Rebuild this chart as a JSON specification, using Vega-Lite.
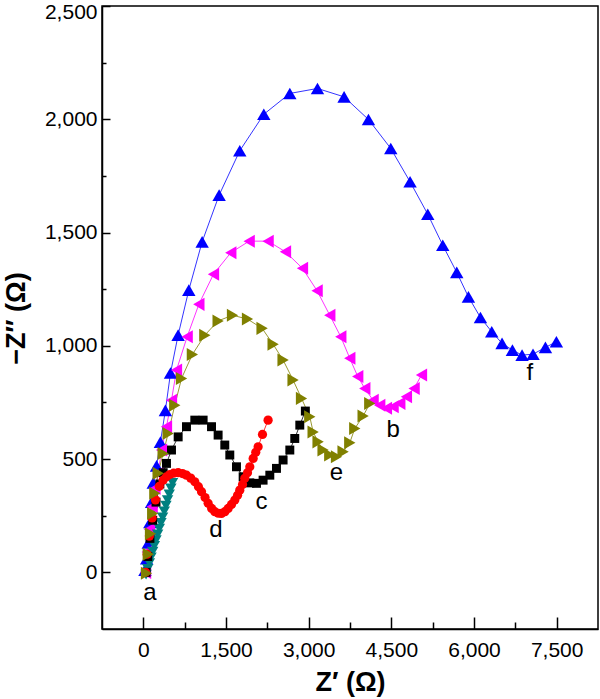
{
  "$schema": "https://vega.github.io/schema/vega-lite/v6.json",
  "width": 496,
  "height": 623,
  "autosize": {"type": "none"},
  "padding": {"left": 102, "top": 6, "right": 2, "bottom": 70},
  "background": "white",
  "config": {
    "view": {"stroke": "black", "strokeWidth": 1.5},
    "axis": {
      "grid": false,
      "labelFont": "Liberation Sans",
      "labelFontSize": 21,
      "labelColor": "black",
      "domainColor": "black",
      "domainWidth": 1.5,
      "tickColor": "black",
      "tickWidth": 1.5,
      "titleFont": "Liberation Sans",
      "titleFontSize": 27,
      "titleFontWeight": "bold",
      "titleColor": "black"
    }
  },
  "datasets": {
    "pts": [
      {"s":"f","x":30,"y":10},{"s":"f","x":60,"y":60},{"s":"f","x":90,"y":130},{"s":"f","x":118,"y":220},{"s":"f","x":150,"y":310},{"s":"f","x":180,"y":395},{"s":"f","x":240,"y":470},{"s":"f","x":310,"y":575},{"s":"f","x":400,"y":715},{"s":"f","x":493,"y":880},{"s":"f","x":631,"y":1047},{"s":"f","x":825,"y":1246},{"s":"f","x":1067,"y":1459},{"s":"f","x":1375,"y":1665},{"s":"f","x":1750,"y":1861},{"s":"f","x":2186,"y":2022},{"s":"f","x":2658,"y":2114},{"s":"f","x":3160,"y":2136},{"s":"f","x":3643,"y":2099},{"s":"f","x":4085,"y":1999},{"s":"f","x":4490,"y":1871},{"s":"f","x":4840,"y":1724},{"s":"f","x":5161,"y":1581},{"s":"f","x":5433,"y":1444},{"s":"f","x":5687,"y":1324},{"s":"f","x":5899,"y":1216},{"s":"f","x":6117,"y":1125},{"s":"f","x":6322,"y":1062},{"s":"f","x":6509,"y":1011},{"s":"f","x":6697,"y":981},{"s":"f","x":6872,"y":959},{"s":"f","x":7071,"y":963},{"s":"f","x":7296,"y":993},{"s":"f","x":7495,"y":1018},
      {"s":"b","x":40,"y":0},{"s":"b","x":70,"y":90},{"s":"b","x":110,"y":190},{"s":"b","x":160,"y":290},{"s":"b","x":210,"y":370},{"s":"b","x":269,"y":437},{"s":"b","x":330,"y":540},{"s":"b","x":420,"y":643},{"s":"b","x":511,"y":760},{"s":"b","x":602,"y":893},{"s":"b","x":795,"y":1040},{"s":"b","x":1007,"y":1183},{"s":"b","x":1273,"y":1316},{"s":"b","x":1587,"y":1411},{"s":"b","x":1920,"y":1462},{"s":"b","x":2264,"y":1462},{"s":"b","x":2579,"y":1415},{"s":"b","x":2888,"y":1342},{"s":"b","x":3153,"y":1243},{"s":"b","x":3383,"y":1135},{"s":"b","x":3583,"y":1040},{"s":"b","x":3746,"y":945},{"s":"b","x":3890,"y":865},{"s":"b","x":4018,"y":812},{"s":"b","x":4169,"y":760},{"s":"b","x":4290,"y":738},{"s":"b","x":4411,"y":724},{"s":"b","x":4532,"y":731},{"s":"b","x":4653,"y":746},{"s":"b","x":4774,"y":775},{"s":"b","x":4913,"y":812},{"s":"b","x":5047,"y":871},
      {"s":"a","x":50,"y":-10},{"s":"a","x":80,"y":15},{"s":"a","x":110,"y":41},{"s":"a","x":140,"y":66},{"s":"a","x":170,"y":91},{"s":"a","x":200,"y":117},{"s":"a","x":230,"y":142},{"s":"a","x":260,"y":167},{"s":"a","x":290,"y":193},{"s":"a","x":320,"y":218},{"s":"a","x":350,"y":243},{"s":"a","x":380,"y":269},{"s":"a","x":410,"y":294},{"s":"a","x":440,"y":319},{"s":"a","x":470,"y":344},{"s":"a","x":500,"y":370},{"s":"a","x":530,"y":395},
      {"s":"c","x":50,"y":0},{"s":"c","x":80,"y":70},{"s":"c","x":120,"y":150},{"s":"c","x":170,"y":230},{"s":"c","x":230,"y":310},{"s":"c","x":300,"y":390},{"s":"c","x":360,"y":440},{"s":"c","x":420,"y":481},{"s":"c","x":511,"y":540},{"s":"c","x":632,"y":598},{"s":"c","x":783,"y":643},{"s":"c","x":934,"y":672},{"s":"c","x":1085,"y":672},{"s":"c","x":1237,"y":643},{"s":"c","x":1357,"y":606},{"s":"c","x":1478,"y":562},{"s":"c","x":1569,"y":518},{"s":"c","x":1690,"y":466},{"s":"c","x":1811,"y":422},{"s":"c","x":1932,"y":395},{"s":"c","x":2053,"y":393},{"s":"c","x":2173,"y":407},{"s":"c","x":2295,"y":429},{"s":"c","x":2416,"y":459},{"s":"c","x":2536,"y":496},{"s":"c","x":2658,"y":540},{"s":"c","x":2748,"y":591},{"s":"c","x":2839,"y":650},{"s":"c","x":2940,"y":712},
      {"s":"d","x":40,"y":0},{"s":"d","x":70,"y":80},{"s":"d","x":110,"y":160},{"s":"d","x":160,"y":240},{"s":"d","x":220,"y":320},{"s":"d","x":290,"y":380},{"s":"d","x":359,"y":407},{"s":"d","x":420,"y":422},{"s":"d","x":481,"y":432},{"s":"d","x":550,"y":438},{"s":"d","x":632,"y":440},{"s":"d","x":710,"y":436},{"s":"d","x":783,"y":429},{"s":"d","x":860,"y":416},{"s":"d","x":934,"y":400},{"s":"d","x":1000,"y":378},{"s":"d","x":1056,"y":356},{"s":"d","x":1120,"y":330},{"s":"d","x":1176,"y":305},{"s":"d","x":1240,"y":282},{"s":"d","x":1297,"y":268},{"s":"d","x":1360,"y":261},{"s":"d","x":1418,"y":260},{"s":"d","x":1480,"y":268},{"s":"d","x":1539,"y":282},{"s":"d","x":1600,"y":300},{"s":"d","x":1660,"y":319},{"s":"d","x":1710,"y":340},{"s":"d","x":1750,"y":363},{"s":"d","x":1800,"y":388},{"s":"d","x":1841,"y":415},{"s":"d","x":1890,"y":440},{"s":"d","x":1932,"y":466},{"s":"d","x":1993,"y":503},{"s":"d","x":2040,"y":530},{"s":"d","x":2083,"y":554},{"s":"d","x":2162,"y":609},{"s":"d","x":2264,"y":672},
      {"s":"e","x":58,"y":-4},{"s":"e","x":90,"y":80},{"s":"e","x":130,"y":170},{"s":"e","x":170,"y":260},{"s":"e","x":209,"y":349},{"s":"e","x":269,"y":437},{"s":"e","x":359,"y":525},{"s":"e","x":450,"y":613},{"s":"e","x":571,"y":738},{"s":"e","x":693,"y":856},{"s":"e","x":890,"y":962},{"s":"e","x":1116,"y":1047},{"s":"e","x":1357,"y":1110},{"s":"e","x":1618,"y":1135},{"s":"e","x":1890,"y":1118},{"s":"e","x":2155,"y":1077},{"s":"e","x":2355,"y":1007},{"s":"e","x":2536,"y":937},{"s":"e","x":2717,"y":849},{"s":"e","x":2870,"y":768},{"s":"e","x":3020,"y":687},{"s":"e","x":3081,"y":620},{"s":"e","x":3171,"y":576},{"s":"e","x":3262,"y":540},{"s":"e","x":3383,"y":518},{"s":"e","x":3505,"y":510},{"s":"e","x":3625,"y":532},{"s":"e","x":3746,"y":572},{"s":"e","x":3837,"y":635},{"s":"e","x":3988,"y":690},{"s":"e","x":4109,"y":745}
    ],
    "labels": [
      {"t":"a","x":118,"y":-93},
      {"t":"b","x":4532,"y":628},
      {"t":"c","x":2144,"y":312},
      {"t":"d","x":1315,"y":187},
      {"t":"e","x":3505,"y":437},
      {"t":"f","x":7011,"y":878}
    ]
  },
  "resolve": {"axis": {"x": "independent", "y": "independent"}},
  "layer": [
    {
      "data": {"name": "pts"},
      "mark": {"type": "line", "strokeWidth": 0.8, "clip": true},
      "encoding": {
        "x": {"field": "x", "type": "quantitative", "scale": {"domain": [-750, 8250], "nice": false, "zero": false},
          "axis": {"orient": "bottom", "values": [0, 1500, 3000, 4500, 6000, 7500], "format": ",d", "tickSize": -12, "labelPadding": 22, "title": "Z′ (Ω)", "titleY": 53, "titleBaseline": "middle"}},
        "y": {"field": "y", "type": "quantitative", "scale": {"domain": [-250, 2500], "nice": false, "zero": false},
          "axis": {"orient": "left", "values": [0, 500, 1000, 1500, 2000, 2500], "format": ",d", "tickSize": -8, "labelPadding": 13, "labelFlush": true, "labelFlushOffset": 5, "title": "−Z″ (Ω)", "titleX": -86, "titleY": 312, "titleAngle": -90, "titleAlign": "center", "titleBaseline": "middle"}},
        "color": {"field": "s", "type": "nominal", "legend": null,
          "scale": {"domain": ["a","b","c","d","e","f"], "range": ["#008080","#FF00FF","#000000","#FF0000","#808000","#0000FF"]}},
        "order": {"value": null}
      }
    },
    {
      "data": {"name": "pts"},
      "mark": {"type": "point", "filled": true, "opacity": 1, "clip": true},
      "encoding": {
        "x": {"field": "x", "type": "quantitative", "axis": null},
        "y": {"field": "y", "type": "quantitative", "axis": null},
        "color": {"field": "s", "type": "nominal", "legend": null},
        "shape": {"field": "s", "type": "nominal", "legend": null,
          "scale": {"domain": ["a","b","c","d","e","f"], "range": ["triangle-down","triangle-left","square","circle","triangle-right","triangle-up"]}},
        "size": {"field": "s", "type": "nominal", "legend": null,
          "scale": {"type": "ordinal", "domain": ["a","b","c","d","e","f"], "range": [130, 170, 80, 85, 170, 180]}}
      }
    },
    {
      "data": {"name": "labels"},
      "mark": {"type": "text", "font": "Liberation Sans", "fontSize": 24, "color": "black", "align": "center", "baseline": "middle"},
      "encoding": {
        "x": {"field": "x", "type": "quantitative", "axis": null},
        "y": {"field": "y", "type": "quantitative", "axis": null},
        "text": {"field": "t", "type": "nominal"}
      }
    },
    {
      "data": {"name": "labels"},
      "mark": {"type": "point", "opacity": 0},
      "encoding": {
        "x": {"field": "x", "type": "quantitative",
          "axis": {"orient": "bottom", "values": [750, 2250, 3750, 5250, 6750], "labels": false, "domain": false, "tickSize": -7, "title": null}},
        "y": {"field": "y", "type": "quantitative",
          "axis": {"orient": "left", "values": [250, 750, 1250, 1750, 2250], "labels": false, "domain": false, "tickSize": -4, "title": null}}
      }
    }
  ]
}
